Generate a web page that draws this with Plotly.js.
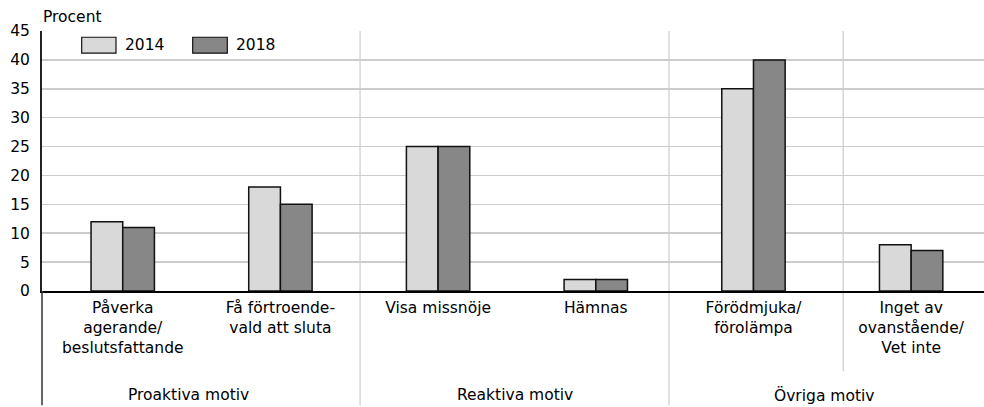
<!DOCTYPE html>
<html>
<head>
<meta charset="utf-8">
<script src="https://cdn.plot.ly/plotly-3.0.1.min.js"></script>
<style>html,body{margin:0;padding:0;background:#fff;}#chart{width:984px;height:407px;}</style>
</head>
<body>
<div id="chart"></div>
<script>
// ---- data ----
const categories = [
  "Påverka<br>agerande/<br>beslutsfattande",
  "Få förtroende-<br>vald att sluta",
  "Visa missnöje",
  "Hämnas",
  "Förödmjuka/<br>förolämpa",
  "Inget av<br>ovanstående/<br>Vet inte"
];
const seriesNames = ["2014", "2018"];
const values2014 = [12, 18, 25, 2, 35, 8];
const values2018 = [11, 15, 25, 2, 40, 7];
const groupLabels = ["Proaktiva motiv", "Reaktiva motiv", "Övriga motiv"];
const yTicks = [0, 5, 10, 15, 20, 25, 30, 35, 40, 45];

// ---- styling ----
const FONT = "DejaVu Sans, Liberation Sans, Arial, sans-serif";
const FS = 15.5;
const colors = ["#d9d9d9", "#878787"];
const idx = categories.map((_, i) => i);

const traces = [values2014, values2018].map((vals, k) => ({
  type: "bar",
  name: seriesNames[k],
  x: idx,
  y: vals,
  marker: { color: colors[k], line: { color: "#111111", width: 1.5 } },
  showlegend: false,
  hoverinfo: "skip"
}));

// plot geometry helpers (paper coords)
const plotL = 42, plotW = 942, plotT = 31, plotH = 261.3;
const px2x = px => (px - plotL) / plotW;
const px2y = py => (plotT + plotH - py) / plotH;

const shapes = [];
// vertical separators
[[1.505, 407], [3.464, 407], [4.569, 373]].forEach(([xv, bot]) => {
  shapes.push({ type: "line", xref: "x", yref: "paper", x0: xv, x1: xv, y0: 1, y1: px2y(bot),
    line: { color: "#cccccc", width: 1.2 }, layer: "below" });
});
// left axis extension below the plot
shapes.push({ type: "line", xref: "paper", yref: "paper", x0: 0, x1: 0, y0: 0, y1: px2y(407),
  line: { color: "#333333", width: 1.5 } });

// legend drawn manually
const legendBoxes = [[81.7, 116], [192.7, 227.3]];
const annotations = [];
legendBoxes.forEach(([a, b], k) => {
  shapes.push({ type: "rect", xref: "paper", yref: "paper", x0: px2x(a), x1: px2x(b),
    y0: px2y(53.3), y1: px2y(37.3), fillcolor: colors[k], line: { color: "#111111", width: 1.2 } });
  annotations.push({ xref: "paper", yref: "paper", x: px2x(b + 7), y: px2y(45.5),
    xanchor: "left", yanchor: "middle", text: seriesNames[k], showarrow: false,
    font: { family: FONT, size: FS, color: "#000" } });
});

// y-axis unit label
annotations.push({ xref: "paper", yref: "paper", x: px2x(41), y: px2y(17), xanchor: "left", yanchor: "middle",
  text: "Procent", showarrow: false, font: { family: FONT, size: FS, color: "#000" } });

// group labels
const groupCenters = [0.42, 2.49, 4.45];
groupLabels.forEach((t, i) => {
  annotations.push({ xref: "x", yref: "paper", x: groupCenters[i], y: px2y(397),
    xanchor: "center", yanchor: "middle", text: t, showarrow: false,
    font: { family: FONT, size: FS, color: "#000" } });
});

const layout = {
  width: 984, height: 407,
  margin: { l: 42, r: 0, t: 31, b: 115.7, pad: 0 },
  paper_bgcolor: "#fff", plot_bgcolor: "#fff",
  font: { family: FONT, size: FS, color: "#000" },
  barmode: "group", bargap: 0.598, bargroupgap: 0,
  xaxis: {
    type: "linear", range: [-0.512, 5.462],
    tickmode: "array", tickvals: idx, ticktext: categories,
    showgrid: false, zeroline: false,
    showline: true, linecolor: "#000", linewidth: 1.5,
    ticks: "", ticklabelstandoff: 2,
    tickfont: { family: FONT, size: FS, color: "#000" }
  },
  yaxis: {
    range: [0, 45], tickmode: "array", tickvals: yTicks,
    showgrid: true, gridcolor: "#cccccc", gridwidth: 1.5,
    zeroline: false, showline: true, linecolor: "#222", linewidth: 2,
    ticks: "", ticklabelstandoff: 7,
    tickfont: { family: FONT, size: FS, color: "#000" }
  },
  shapes: shapes,
  annotations: annotations,
  showlegend: false
};

Plotly.newPlot("chart", traces, layout, { staticPlot: true, displayModeBar: false });
</script>
</body>
</html>
